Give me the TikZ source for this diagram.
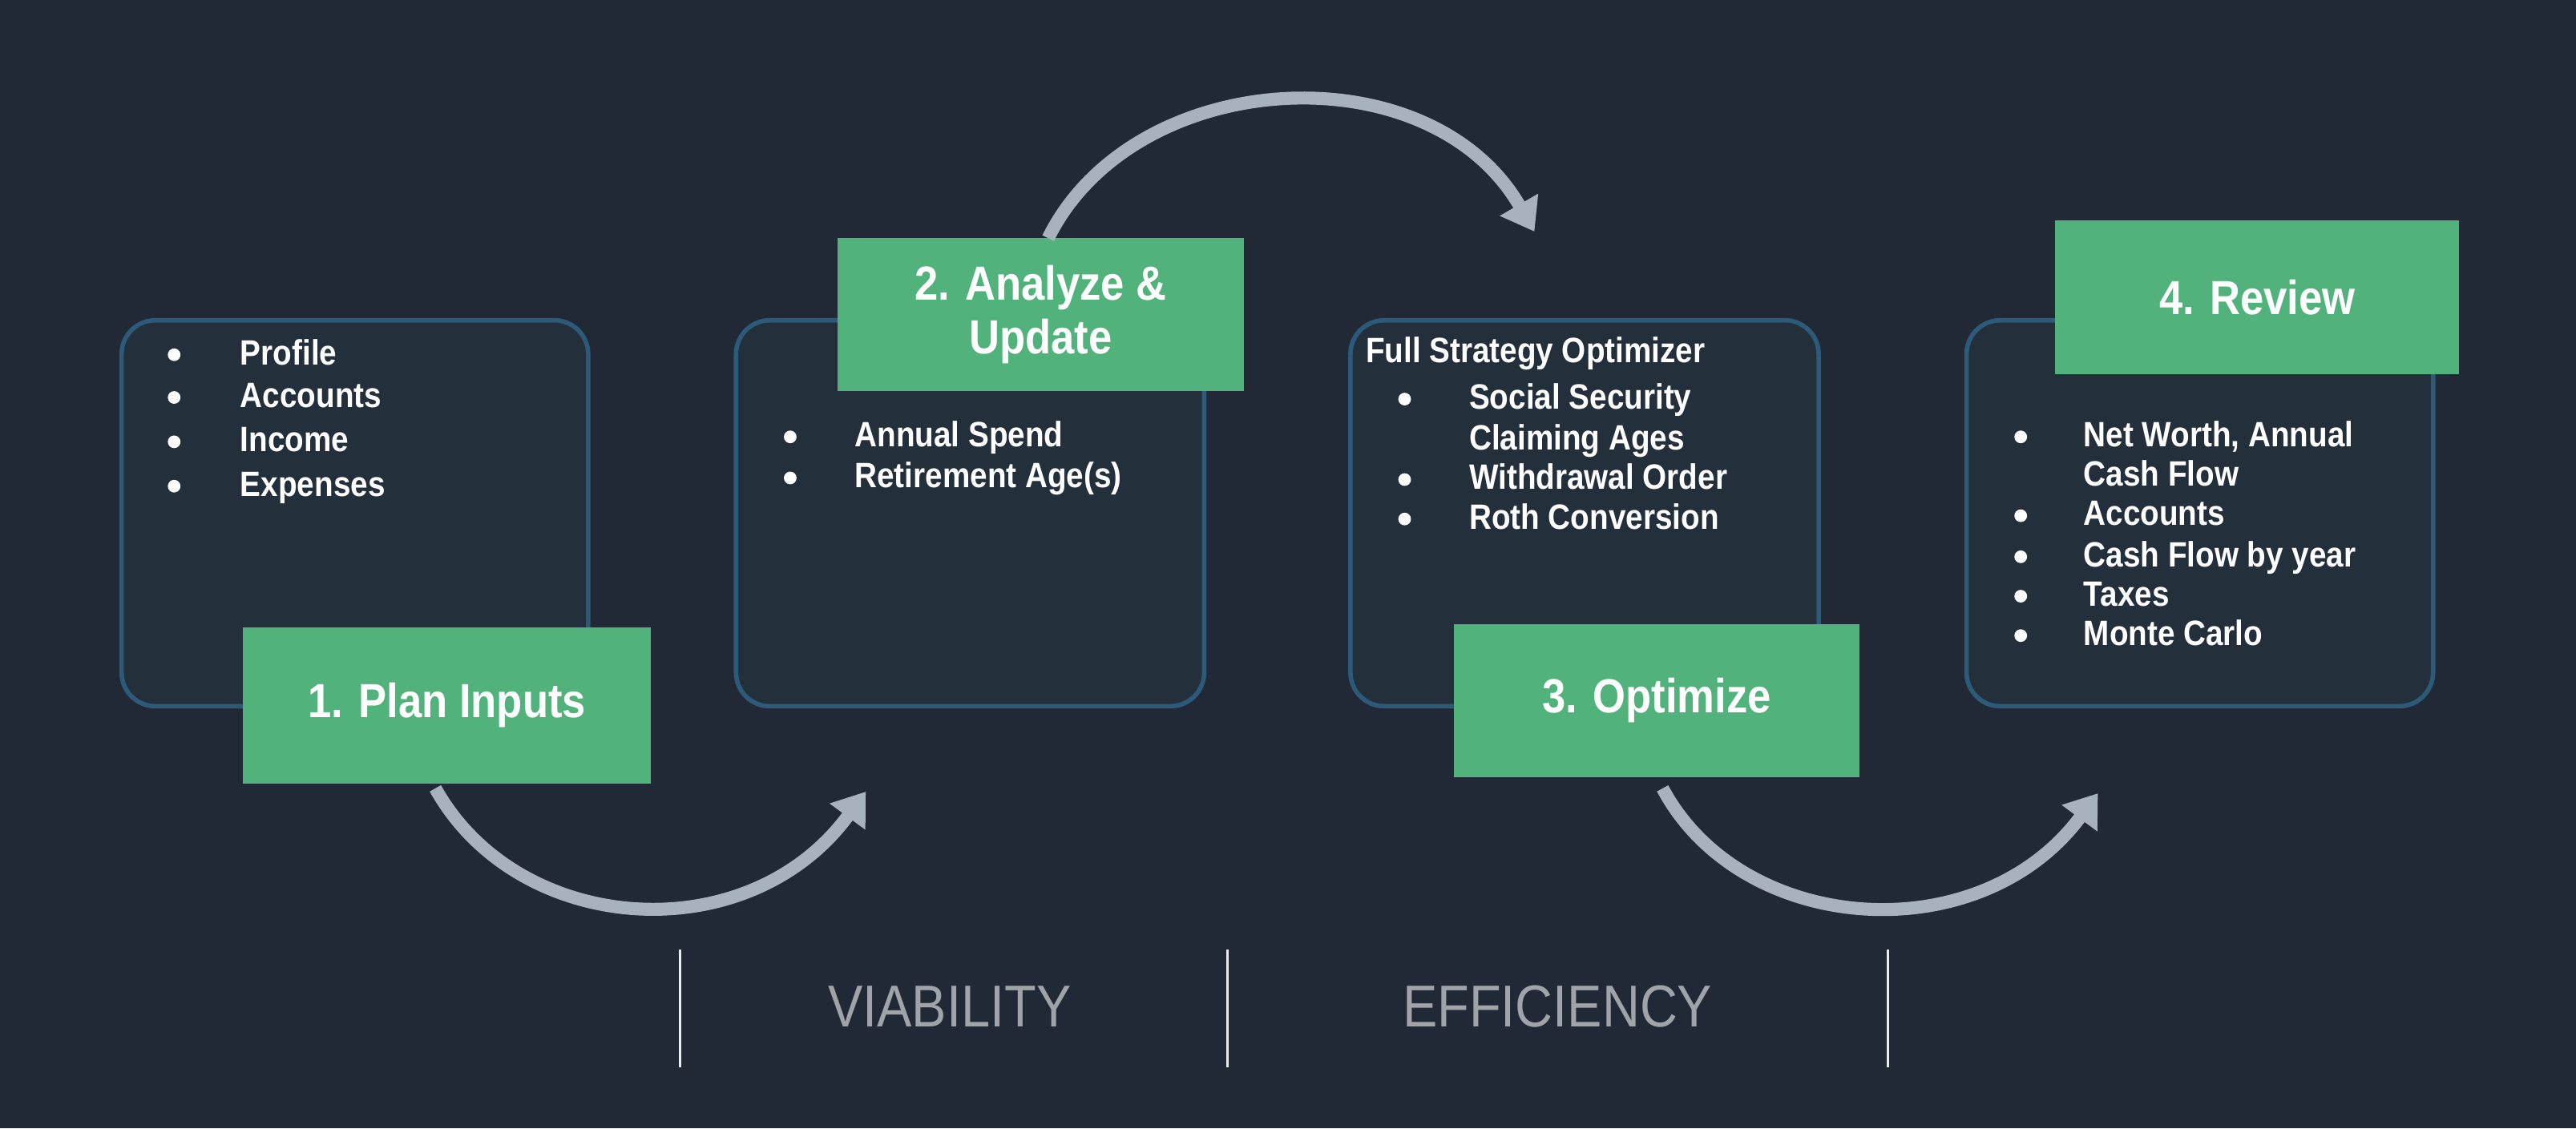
\documentclass[tikz,border=0pt]{standalone}
\usepackage{fontspec}
\setmainfont[FakeStretch=0.88]{Liberation Sans}
\usetikzlibrary{arrows.meta}
\definecolor{bg}{HTML}{212836}
\definecolor{boxfill}{HTML}{232F3A}
\definecolor{boxline}{HTML}{2E5A7A}
\definecolor{grn}{HTML}{52B27C}
\definecolor{arr}{HTML}{A8B2BF}
\definecolor{gtext}{HTML}{A0A4A8}
\tikzset{
  card/.style={draw=boxline, line width=1.6pt, fill=boxfill, rounded corners=12pt},
  tag/.style={fill=grn, text=white, font=\fontsize{17}{19}\selectfont\bfseries, align=center, inner sep=0pt},
  item/.style={text=white, font=\fontsize{12.5}{14}\selectfont\bfseries, anchor=base west, inner sep=0pt},
  dot/.style={circle, fill=white, inner sep=0pt, minimum size=4.5pt},
  flow/.style={draw=arr, line width=4.6pt, -{Triangle[length=11pt,width=15pt]}},
  sep/.style={draw=white!85!gray, line width=0.8pt},
  phase/.style={text=gtext, font=\fontsize{21}{24}\selectfont}
}
\begin{document}
\begin{tikzpicture}[x=0.0205cm,y=-0.0205cm]
\fill[bg] (0,0) rectangle (1568,687);
\useasboundingbox (0,0) rectangle (1568,687);
% cards
\path[card] (74,195) rectangle (358,430); \node (c1) at (216,312) {};
\path[card] (448,195) rectangle (733,430); \node (c2) at (590,312) {};
\path[card] (822,195) rectangle (1107,430); \node (c3) at (964,312) {};
\path[card] (1197,195) rectangle (1481,430); \node (c4) at (1339,312) {};
% tags
\node[tag, minimum width=248*0.0205cm, minimum height=95*0.0205cm] (t1) at (272,429.5) {1. Plan Inputs};
\node[tag, minimum width=247*0.0205cm, minimum height=93*0.0205cm] (t2) at (633.5,191.5) {2. Analyze \&\\Update};
\node[tag, minimum width=247*0.0205cm, minimum height=93*0.0205cm] (t3) at (1008.5,426.5) {3. Optimize};
\node[tag, minimum width=246*0.0205cm, minimum height=94*0.0205cm] (t4) at (1374,181) {4. Review};
% box 1 items
\foreach \t/\y [count=\i] in {Profile/222,Accounts/248,Income/275,Expenses/302}{
  \node[dot] (b1d\i) at (106,\y-6) {};
  \node[item] (b1t\i) at (146,\y) {\t};
}
% box 2
\foreach \t/\y [count=\i] in {Annual Spend/272,Retirement Age(s)/297}{
  \node[dot] (b2d\i) at (481,\y-6) {};
  \node[item] (b2t\i) at (520,\y) {\t};
}
% box 3
\node[item] (b3h) at (831,221) {Full Strategy Optimizer};
\foreach \y [count=\i] in {249,298,322}{ \node[dot] (b3d\i) at (855,\y-6) {}; }
\node[item] (b3t1) at (894,249) {Social Security};
\node[item] (b3t1b) at (894,274) {Claiming Ages};
\node[item] (b3t2) at (894,298) {Withdrawal Order};
\node[item] (b3t3) at (894,322) {Roth Conversion};
% box 4
\foreach \y [count=\i] in {272,320,345,369,393}{ \node[dot] (b4d\i) at (1230,\y-6) {}; }
\node[item] (b4t1) at (1268,272) {Net Worth, Annual};
\node[item] (b4t1b) at (1268,296) {Cash Flow};
\node[item] (b4t2) at (1268,320) {Accounts};
\node[item] (b4t3) at (1268,345) {Cash Flow by year};
\node[item] (b4t4) at (1268,369) {Taxes};
\node[item] (b4t5) at (1268,393) {Monte Carlo};
% arrows
\coordinate (a1s) at (265,480); \coordinate (a1e) at (527,482);
\coordinate (a2s) at (638,145); \coordinate (a2e) at (934,141);
\coordinate (a3s) at (1012,480); \coordinate (a3e) at (1277,483);
\draw[flow] (a1s) .. controls (315,570) and (455,580) .. (a1e);
\draw[flow] (a2s) .. controls (690,40) and (870,30) .. (a2e);
\draw[flow] (a3s) .. controls (1060,570) and (1205,580) .. (a3e);
% separators
\coordinate (s1a) at (414,578); \coordinate (s1b) at (414,650);
\coordinate (s2a) at (747,578); \coordinate (s2b) at (747,650);
\coordinate (s3a) at (1149,578); \coordinate (s3b) at (1149,650);
\draw[sep] (s1a) -- (s1b); \draw[sep] (s2a) -- (s2b); \draw[sep] (s3a) -- (s3b);
\node[phase] (p1) at (578,613) {VIABILITY};
\node[phase] (p2) at (948,613) {EFFICIENCY};
\end{tikzpicture}
\end{document}
